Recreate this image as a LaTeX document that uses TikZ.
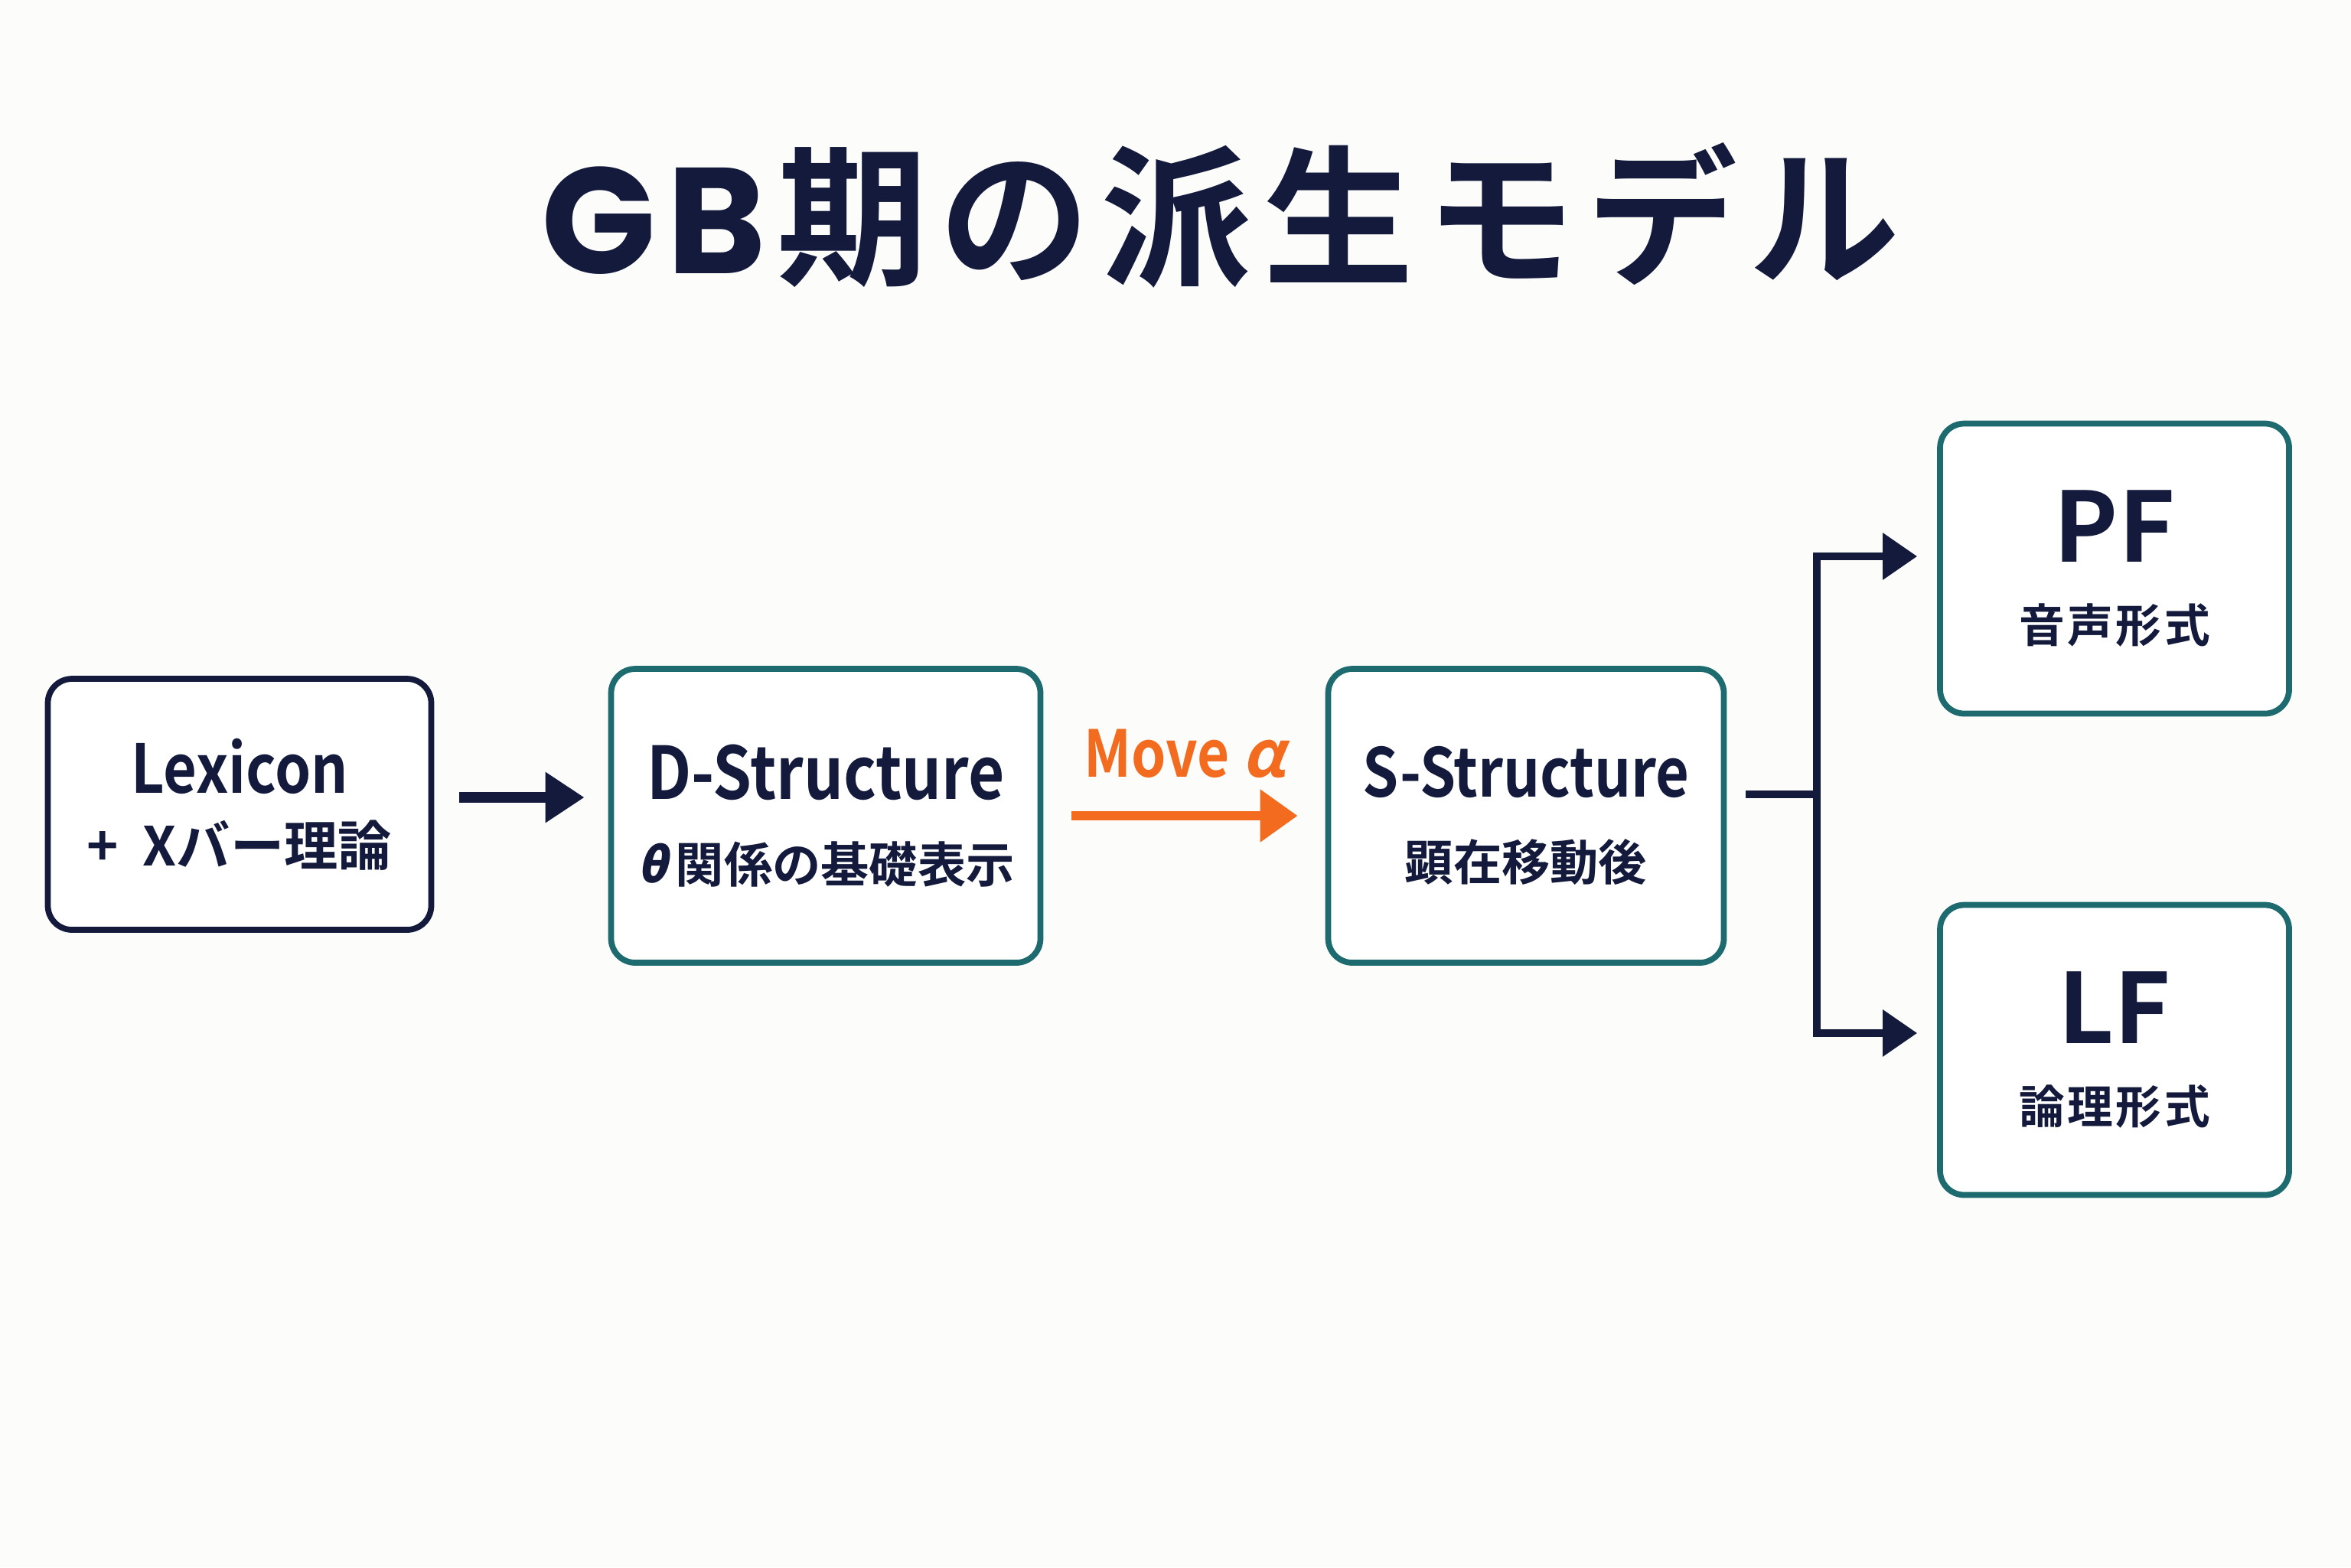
\documentclass[tikz,border=0pt]{standalone}
\usepackage{fontspec}
\setmainfont{Noto Sans CJK JP}[BoldFont={Noto Sans CJK JP Bold}]
\newfontfamily\geofont{Poppins}[BoldFont={Poppins Bold}]
\newfontfamily\condfont{Noto Sans CJK JP Bold}[FakeStretch=0.86]
\newfontfamily\slantfont{Noto Sans CJK JP Bold}[FakeSlant=0.22]
\usepackage{tikz}
\usetikzlibrary{arrows.meta,positioning,calc}

\definecolor{inkblue}{HTML}{131A3C}
\definecolor{tealedge}{HTML}{1E6B6F}
\definecolor{moveorange}{HTML}{F26B1F}
\definecolor{paper}{HTML}{FCFCFA}

\begin{document}
\begin{tikzpicture}[
    basebox/.style={
        rounded corners=9pt,
        line width=2.2pt,
        fill=white,
        inner sep=0pt,
        align=center,
        text=inkblue
    },
    lexbox/.style={
        basebox,
        draw=inkblue,
        minimum width=5.01cm,
        minimum height=3.28cm,
        font=\condfont\fontsize{25}{27}\selectfont
    },
    stagebox/.style={
        basebox,
        draw=tealedge,
        minimum height=3.84cm,
        font=\condfont\fontsize{27}{31}\selectfont
    },
    levelbox/.style={
        basebox,
        draw=tealedge,
        minimum width=4.56cm,
        minimum height=3.79cm,
        font=\bfseries\fontsize{36}{30}\selectfont
    },
    heavyarrow/.style={
        -{Triangle[length=0.51cm, width=0.63cm]},
        draw=inkblue,
        line width=4pt
    },
    movearrow/.style={
        -{Triangle[length=0.49cm, width=0.66cm]},
        draw=moveorange,
        line width=3.4pt
    },
    branchline/.style={
        draw=inkblue,
        line width=2.8pt
    },
    brancharrow/.style={
        branchline,
        -{Triangle[length=0.45cm, width=0.59cm]}
    }
]
    % --- canvas ---
    \fill[paper] (0,0) rectangle (30.72,-20.48);

    % --- title ---
    \node[font=\bfseries\fontsize{56}{60}\selectfont, text=inkblue] (title) at (15.95,-2.81)
        {{\geofont\bfseries G\kern0.07em B}\kern0.075em 期\kern0.075em の\kern0.075em 派\kern0.075em 生\kern0.075em モ\kern0.075em デ\kern0.075em ル};

    % --- derivation stages ---
    \node[lexbox] (lex) at (3.13,-10.51)
        {Lexicon\\{\normalfont\bfseries\fontsize{20}{24}\selectfont +\hspace{0.45em}Xバー理論}};
    \node[stagebox, minimum width=5.61cm] (dstr) at (10.79,-10.66)
        {D-Structure\\{\normalfont\bfseries\fontsize{18}{22}\selectfont{\slantfont θ}\,関係の基礎表示}};
    \node[stagebox, minimum width=5.17cm, font=\condfont\fontsize{25}{31}\selectfont] (sstr) at (19.94,-10.66)
        {S-Structure\\{\normalfont\bfseries\fontsize{18}{22}\selectfont 顕在移動後}};

    % --- interface levels ---
    \node[levelbox] (pf) at (27.63,-7.43)
        {PF\\{\fontsize{17}{22}\selectfont\addfontfeature{LetterSpace=6}音声形式}};
    \node[levelbox] (lf) at (27.63,-13.72)
        {LF\\{\fontsize{17}{22}\selectfont\addfontfeature{LetterSpace=6}論理形式}};

    % --- arrows ---
    \draw[heavyarrow, shorten <=0.33cm, shorten >=0.31cm]
        ([yshift=0.09cm]lex.east) -- ([yshift=0.09cm]lex.east -| dstr.west);

    \draw[movearrow, shorten <=0.37cm, shorten >=0.36cm] (dstr) -- (sstr);
    \node[font=\condfont\fontsize{24}{26}\selectfont, text=moveorange] (movelbl) at (15.48,-9.85)
        {Move {\slantfont α}};

    \coordinate (fork) at (23.74,-10.38);
    \draw[branchline] ([xshift=0.25cm]sstr.east |- fork) -- (fork);
    \draw[brancharrow] (fork) |- ([xshift=-0.26cm, yshift=0.16cm]pf.west);
    \draw[brancharrow] (fork) |- ([xshift=-0.26cm, yshift=0.22cm]lf.west);
\end{tikzpicture}
\end{document}
